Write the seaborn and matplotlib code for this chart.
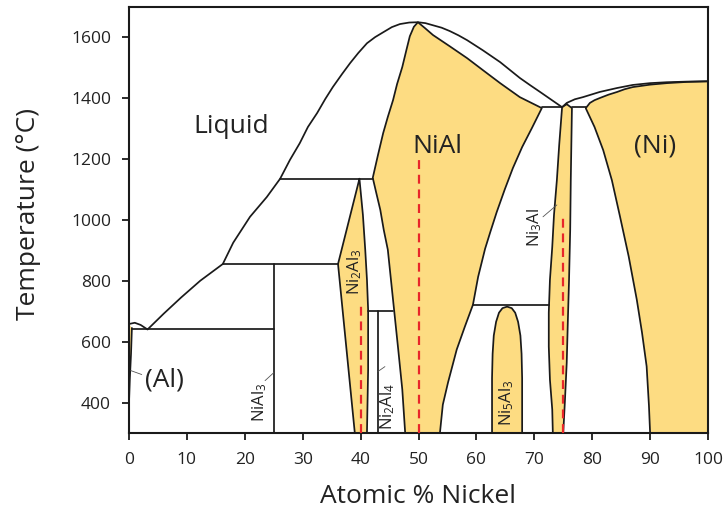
import matplotlib
matplotlib.use("Agg")
import matplotlib.pyplot as plt
import seaborn as sns
import pandas as pd

# ---- Al-Ni phase diagram boundaries: (atomic % Ni, temperature in degC) ----

# Liquidus, Al side through the NiAl maximum down to the Ni3Al peritectic
liquidus_x = [0, 1.0, 2.0, 3.2, 6.0, 9.0, 12.3, 16.2, 18.0, 20.9, 23.8, 26.1,
              27.8, 29.5, 30.9, 32.5, 33.9, 35.2, 36.8, 38.2, 39.6, 41.1, 42.5,
              43.9, 45.4, 46.8, 48.4, 49.9, 51.2, 52.5, 54.0, 55.4, 56.9, 58.4,
              61.1, 64.1, 65.8, 67.5, 69.3, 71.0, 72.9, 74.8]
liquidus_t = [658, 662, 655, 640, 692, 745, 800, 855, 925, 1010, 1075, 1135,
              1197, 1252, 1305, 1351, 1397, 1436, 1479, 1515, 1548, 1580, 1600,
              1616, 1633, 1643, 1648, 1649, 1646, 1639, 1631, 1620, 1606, 1590,
              1557, 1518, 1492, 1466, 1442, 1420, 1395, 1370]

# Liquidus, Ni side
ni_liquidus_x = [74.8, 75.6, 77.0, 78.4, 81.3, 84.3, 87.0, 90.0, 92.9, 96.4, 100]
ni_liquidus_t = [1370, 1384, 1396, 1403, 1420, 1433, 1443, 1449, 1452, 1454, 1455]

# (Ni) solidus and solvus
ni_solidus_x = [78.9, 79.6, 80.4, 81.3, 82.8, 84.3, 85.6, 87.0, 90.0, 92.9, 96.4, 100]
ni_solidus_t = [1367, 1384, 1393, 1400, 1411, 1420, 1429, 1436, 1444, 1449, 1453, 1455]
ni_solvus_x = [78.9, 80.4, 81.9, 83.4, 84.8, 86.3, 87.7, 88.6, 89.4, 89.8, 90.0]
ni_solvus_t = [1366, 1305, 1229, 1130, 1011, 880, 738, 630, 519, 390, 300]

# (Al) terminal solid solution
al_solvus_x = [0, 0.5, 0.35, 0.15, 0.0]
al_solvus_t = [658, 645, 560, 480, 400]

# NiAl phase field
nial_left_x = [47.7, 47.2, 46.5, 45.6, 44.7, 44.0, 43.4, 42.7, 42.1, 43.0, 43.9,
               44.7, 45.6, 46.3, 47.2, 47.9, 48.5, 49.2, 49.9]
nial_left_t = [300, 443, 574, 738, 902, 967, 1033, 1089, 1138, 1213, 1285,
               1338, 1393, 1446, 1502, 1557, 1603, 1634, 1649]
nial_right_x = [49.9, 51.1, 52.5, 55.4, 58.4, 61.1, 64.1, 67.5, 71.3, 69.6, 67.9,
                66.3, 64.9, 63.5, 62.4, 61.5, 60.3, 59.4, 58.0, 56.6, 55.1, 54.2, 53.7]
nial_right_t = [1649, 1630, 1607, 1570, 1531, 1492, 1449, 1403, 1367, 1302, 1239,
                1170, 1100, 1025, 960, 905, 813, 721, 649, 574, 466, 393, 300]

# Ni2Al3 phase field
ni2al3_x = [39.8, 36.1, 39.0, 41.1, 41.3, 41.3, 41.1, 40.8, 40.4, 39.8]
ni2al3_t = [1135, 855, 300, 300, 508, 705, 803, 902, 1016, 1135]

# Ni5Al3 phase field
ni5al3_x = [62.7, 62.7, 62.8, 63.0, 63.4, 63.9, 64.5, 65.3, 66.1, 66.7, 67.2,
            67.6, 67.8, 67.9, 67.9]
ni5al3_t = [300, 480, 560, 620, 665, 695, 710, 715, 710, 695, 665,
            620, 560, 480, 300]

# Ni3Al phase field
ni3al_left_x = [75.6, 74.8, 74.3, 73.9, 73.4, 73.1, 72.7, 72.5, 72.5, 72.7, 73.1, 73.2]
ni3al_left_t = [1380, 1370, 1246, 1131, 1016, 911, 803, 695, 584, 475, 377, 300]
ni3al_right_x = [75.0, 75.3, 75.6, 75.8, 76.0, 76.2, 76.3, 76.5, 75.6]
ni3al_right_t = [300, 410, 531, 672, 803, 967, 1131, 1367, 1380]

# Invariant (horizontal) lines: x start, x end, temperature
iso_x0 = [0.5, 16.2, 26.1, 41.3, 59.4, 71.3, 76.5]
iso_x1 = [25.0, 36.1, 42.1, 45.6, 72.5, 74.8, 78.9]
iso_t = [640, 855, 1135, 700, 721, 1370, 1370]

# Line compounds: x, top temperature
compound_x = [25.0, 43.0]
compound_t = [855, 700]

# Stoichiometric compositions (dashed): x, top temperature
stoich_x = [40, 50, 75]
stoich_t = [721, 1200, 1023]

# Phase labels
big_labels = ["Liquid", "NiAl", "(Ni)", "(Al)"]
big_x = [17.6, 53.2, 90.8, 6.2]
big_t = [1285, 1220, 1220, 452]

small_labels = [r"NiAl$_3$", r"Ni$_2$Al$_3$", r"Ni$_2$Al$_4$", r"Ni$_5$Al$_3$", r"Ni$_3$Al"]
small_x = [22.5, 39.0, 44.7, 65.3, 70.1]
small_t = [400, 830, 387, 400, 974]

# Leader lines from labels to narrow fields
leader_x0 = [2.2, 23.5, 43.0, 71.5]
leader_t0 = [492, 472, 502, 1010]
leader_x1 = [0.3, 25.0, 44.2, 73.9]
leader_t1 = [505, 498, 518, 1049]

x_ticks = list(range(0, 101, 10))
y_ticks = [400, 600, 800, 1000, 1200, 1400, 1600]

# ---------------------------------------------------------------------------
sns.set_style("ticks")
plt.rcParams["font.family"] = ["Open Sans", "DejaVu Sans"]
plt.rcParams["mathtext.fontset"] = "custom"
plt.rcParams["mathtext.rm"] = "Open Sans"
plt.rcParams["mathtext.it"] = "Open Sans:italic"
plt.rcParams["mathtext.default"] = "regular"

FILL = "#FDDC82"
LINE = "#1a1a1a"
TXT = "#222222"
LW = 1.25

fig = plt.figure(figsize=(7.23, 5.13), dpi=100)
ax = fig.add_axes([129 / 723, 1 - 433 / 513, 579 / 723, 426.3 / 513])

# filled single-phase fields
nial_x = nial_left_x + nial_right_x[1:]
nial_t = nial_left_t + nial_right_t[1:]
ni_field_x = ni_solidus_x + [100, 90.0] + ni_solvus_x[::-1][1:]
ni_field_t = ni_solidus_t + [300, 300] + ni_solvus_t[::-1][1:]
ni3al_x = ni3al_left_x + ni3al_right_x
ni3al_t = ni3al_left_t + ni3al_right_t
for px, pt in [(nial_x, nial_t), (ni2al3_x, ni2al3_t), (ni5al3_x, ni5al3_t),
               (ni3al_x, ni3al_t), (ni_field_x, ni_field_t), (al_solvus_x, al_solvus_t)]:
    ax.fill(px, pt, color=FILL, lw=0, zorder=1)


def boundary(xs, ts, **kw):
    df = pd.DataFrame({"x": xs, "t": ts})
    sns.lineplot(data=df, x="x", y="t", sort=False, estimator=None, ax=ax,
                 color=LINE, lw=LW, legend=False, zorder=3, **kw)


boundary(liquidus_x, liquidus_t)
boundary(ni_liquidus_x, ni_liquidus_t)
boundary(ni_solidus_x, ni_solidus_t)
boundary(ni_solvus_x, ni_solvus_t)
boundary(al_solvus_x[1:], al_solvus_t[1:])
boundary(nial_x, nial_t)
boundary(ni2al3_x, ni2al3_t)
boundary(ni5al3_x, ni5al3_t)
boundary(ni3al_x, ni3al_t)
for x0, x1, t in zip(iso_x0, iso_x1, iso_t):
    boundary([x0, x1], [t, t])
for x, t in zip(compound_x, compound_t):
    boundary([x, x], [300, t])

# stoichiometric compositions
for x, t in zip(stoich_x, stoich_t):
    ax.plot([x, x], [300, t], color="#E8262A", lw=1.6, ls=(0, (4, 2.6)), zorder=4)

# leaders
for x0, t0, x1, t1 in zip(leader_x0, leader_t0, leader_x1, leader_t1):
    ax.plot([x0, x1], [t0, t1], color="#555555", lw=0.6, zorder=4)

for s, x, t in zip(big_labels, big_x, big_t):
    ax.text(x, t, s, fontsize=19, ha="center", va="baseline", color=TXT, zorder=5)
for s, x, t in zip(small_labels, small_x, small_t):
    ax.text(x, t, s, fontsize=12, ha="center", va="center", rotation=90, color=TXT,
            zorder=5)

ax.set_xlim(0, 100)
ax.set_ylim(300, 1700)
ax.set_xticks(x_ticks)
ax.set_yticks(y_ticks)
ax.tick_params(axis="both", direction="out", length=5, width=1.3, color=LINE,
               labelsize=12.5, labelcolor=TXT)
ax.tick_params(axis="x", pad=9)
ax.tick_params(axis="y", pad=8)
for sp in ax.spines.values():
    sp.set_linewidth(1.5)
    sp.set_color(LINE)

ax.set_xlabel("Atomic % Nickel", fontsize=19, color=TXT)
ax.set_ylabel("Temperature (°C)", fontsize=19, color=TXT)
ax.xaxis.label.set_va("center")
ax.yaxis.label.set_va("center")
ax.xaxis.set_label_coords(0.5, -0.150)
ax.yaxis.set_label_coords(-0.174, 0.514)

fig.savefig("out.png", dpi=100)
